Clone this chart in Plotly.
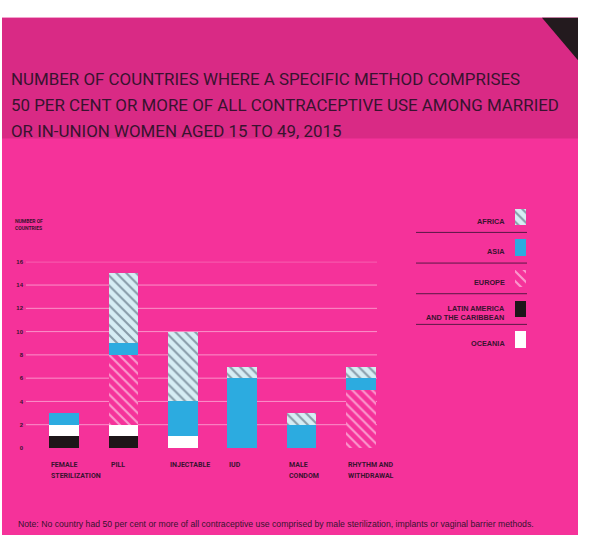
import plotly.graph_objects as go

W, H = 589, 538

# ---------------- data ----------------
categories = ["FEMALE<br>STERILIZATION", "PILL", "INJECTABLE", "IUD",
              "MALE<br>CONDOM", "RHYTHM AND<br>WITHDRAWAL"]
latin_america = [1, 1, 0, 0, 0, 0]
oceania = [1, 1, 1, 0, 0, 0]
europe = [0, 6, 0, 0, 0, 5]
asia = [1, 1, 3, 6, 2, 1]
africa = [0, 6, 6, 1, 1, 1]
y_ticks = [0, 2, 4, 6, 8, 10, 12, 14, 16]
legend_names = ["AFRICA", "ASIA", "EUROPE", "LATIN AMERICA<br>AND THE CARIBBEAN", "OCEANIA"]
title_lines = [
    "NUMBER OF COUNTRIES WHERE A SPECIFIC METHOD COMPRISES",
    "50 PER CENT OR MORE OF ALL CONTRACEPTIVE USE AMONG MARRIED",
    "OR IN-UNION WOMEN AGED 15 TO 49, 2015",
]
y_title = "NUMBER OF<br>COUNTRIES"
note = ("Note: No country had 50 per cent or more of all contraceptive use comprised "
        "by male sterilization, implants or vaginal barrier methods.")

# ---------------- styles ----------------
BODY = "#f5329a"
BAND = "#d92a85"
DARK = "#38132f"
COND = "Roboto"
SANS = "Liberation Sans"


def px(x):
    return x / W


def py(y):
    return 1 - y / H


styles = {
    "AFRICA": dict(color="#d6edf4", line=dict(width=0),
                   pattern=dict(shape="\\", fgcolor="#3a4c5e", bgcolor="#d6edf4",
                                size=7, solidity=0.3)),
    "ASIA": dict(color="#2cabe0", line=dict(width=0)),
    "EUROPE": dict(color=BODY, line=dict(width=0),
                   pattern=dict(shape="\\", fgcolor="#ffffff", bgcolor=BODY,
                                size=7, solidity=0.3)),
    "LATAM": dict(color="#1d1619", line=dict(width=0)),
    "OCEANIA": dict(color="#ffffff", line=dict(width=0)),
}

fig = go.Figure()

idx = list(range(len(categories)))
stack = [("LATAM", latin_america), ("OCEANIA", oceania), ("EUROPE", europe),
         ("ASIA", asia), ("AFRICA", africa)]
for key, vals in stack:
    fig.add_trace(go.Bar(x=idx, y=vals, marker=styles[key], xaxis="x", yaxis="y",
                         showlegend=False, hoverinfo="skip"))

# legend swatches (own small axes)
legend_keys = ["AFRICA", "ASIA", "EUROPE", "LATAM", "OCEANIA"]
for i, key in enumerate(legend_keys):
    fig.add_trace(go.Bar(x=[1], y=[i], orientation="h", width=[17 / 31],
                         marker=styles[key], xaxis="x2", yaxis="y2",
                         showlegend=False, hoverinfo="skip"))

shapes = []
# backgrounds
shapes.append(dict(type="rect", xref="paper", yref="paper", x0=px(2), x1=px(578),
                   y0=0, y1=py(15), fillcolor=BODY, line=dict(width=0), layer="below"))
shapes.append(dict(type="rect", xref="paper", yref="paper", x0=px(2), x1=px(578),
                   y0=py(137), y1=py(15), fillcolor=BAND, line=dict(width=0), layer="below"))
shapes.append(dict(type="path", xref="paper", yref="paper",
                   path=f"M {px(542)},{py(15)} L {px(578)},{py(15)} L {px(578)},{py(58)} Z",
                   fillcolor="#231a1e", line=dict(width=0), layer="below"))
# gridlines (not at zero)
for v in y_ticks[1:]:
    shapes.append(dict(type="line", xref="x domain", yref="y", x0=0, x1=1, y0=v, y1=v,
                       line=dict(color="rgba(255,225,240,0.55)", width=1), layer="below"))
# legend separators
for k in range(len(legend_names) - 1):
    shapes.append(dict(type="line", xref="paper", yref="y2", x0=px(416), x1=px(527),
                       y0=k + 0.5, y1=k + 0.5, line=dict(color="#5a1846", width=1)))

annotations = []
for i, line in enumerate(title_lines):
    annotations.append(dict(text=line, xref="paper", yref="paper", x=px(9), y=py(77 + 26 * i),
                            xanchor="left", yanchor="middle", showarrow=False,
                            font=dict(family=COND, size=16.9, color=DARK)))
annotations.append(dict(text=y_title, xref="paper", yref="paper", x=px(13), y=py(224),
                        xanchor="left", yanchor="middle", showarrow=False, align="left",
                        font=dict(family=COND, size=5, color=DARK, weight=700)))
for i, c in enumerate(categories):
    for j, part in enumerate(c.split("<br>")):
        annotations.append(dict(text=part, xref="x", yref="paper", x=i - 0.25,
                                y=py(467 + 11 * j), xanchor="left", yanchor="middle",
                                showarrow=False,
                                font=dict(family=COND, size=7, color=DARK, weight=700)))
for i, n in enumerate(legend_names):
    annotations.append(dict(text=n, xref="paper", yref="y2", x=px(507), y=i, yshift=-4,
                            xanchor="right", yanchor="middle", showarrow=False, align="right",
                            font=dict(family=SANS, size=7.3, color=DARK, weight=700)))
annotations.append(dict(text=note, xref="paper", yref="paper", x=px(16), y=py(527),
                        xanchor="left", yanchor="middle", showarrow=False,
                        font=dict(family=SANS, size=8.7, color=DARK)))

fig.update_layout(
    width=W, height=H, autosize=False,
    margin=dict(l=0, r=0, t=0, b=0),
    paper_bgcolor="white", plot_bgcolor="rgba(0,0,0,0)",
    barmode="stack", bargap=0.503,
    shapes=shapes, annotations=annotations,
    xaxis=dict(domain=[px(26), px(377)], range=[-0.64, 5.27], visible=False,
               anchor="y", fixedrange=True),
    yaxis=dict(domain=[py(450), py(261.7)], range=[0, 16], tickvals=y_ticks,
               showgrid=False, zeroline=False, showline=False, ticks="",
               tickfont=dict(family=SANS, size=6, color=DARK, weight=700),
               ticklabelstandoff=2,
               anchor="x", fixedrange=True),
    xaxis2=dict(domain=[px(515), px(526)], range=[0, 1], visible=False, anchor="y2"),
    yaxis2=dict(domain=[py(356), py(201)], range=[4.5, -0.5], visible=False, anchor="x2"),
)

fig.write_html("out.html",
               config={"displayModeBar": False, "staticPlot": True},
               post_script="document.body.style.margin='0px';"
                           "document.body.style.overflow='hidden';")
